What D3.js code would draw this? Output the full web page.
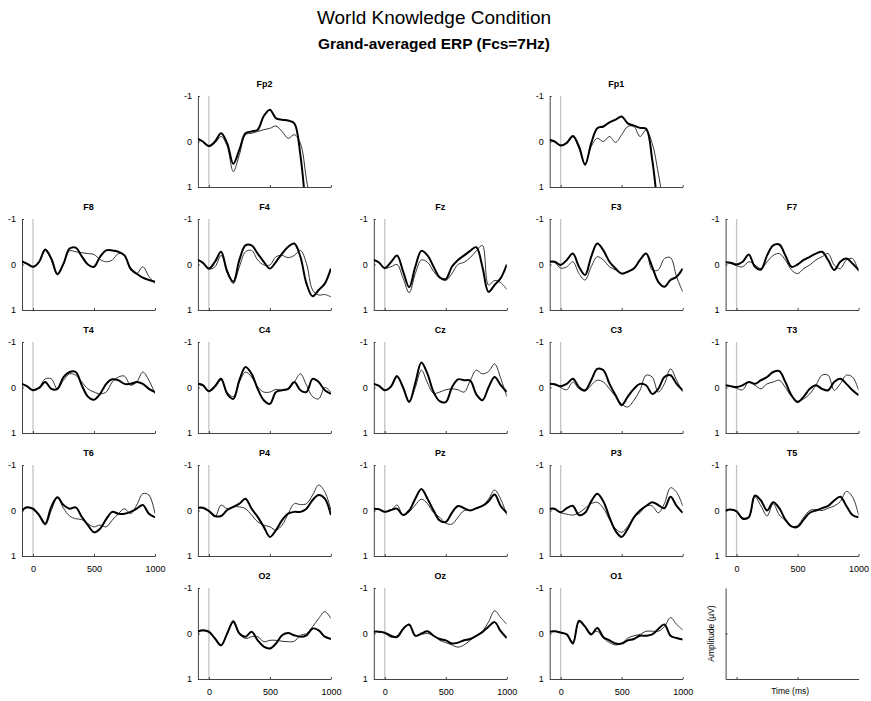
<!DOCTYPE html>
<html>
<head>
<meta charset="utf-8">
<script src="https://cdn.jsdelivr.net/npm/d3@7"></script>
<style>
  body { margin: 0; background: #fff; }
  text { font-family: "Liberation Sans", Arial, sans-serif; }
</style>
</head>
<body>
<div id="chart"></div>
<script>
// time points (ms) shared by every channel
const times = [-90, -50, 0, 50, 100, 150, 200, 250, 300, 350, 400, 450, 500, 550, 600, 650, 700, 750, 800, 850, 900, 950, 1000];
const timeTicks = [0, 500, 1000];
const ampTicks = [-1, 0, 1];

// thick = condition A, thin = condition B (µV, negative up)
const fp2Thick = [-0.06, 0.0, 0.1, 0.0, -0.18, 0.04, 0.49, 0.18, -0.18, -0.22, -0.26, -0.56, -0.7, -0.51, -0.48, -0.46, -0.4, 0.3, 1.7, null, null, null, null];
const fp2Thin = [-0.06, 0.0, 0.11, 0.03, -0.11, 0.1, 0.66, 0.29, -0.15, -0.18, -0.22, -0.26, -0.29, -0.34, -0.22, -0.07, -0.15, 0.04, 0.84, 1.6, null, null, null];
const fp1Thick = [-0.04, 0.0, 0.09, 0.03, -0.12, 0.11, 0.51, 0.04, -0.29, -0.33, -0.42, -0.48, -0.55, -0.4, -0.35, -0.3, -0.28, 0.4, 1.6, null, null, null, null];
const fp1Thin = [-0.04, 0.0, 0.08, 0.03, -0.1, 0.15, 0.49, 0.11, -0.07, 0.0, -0.11, 0.02, -0.15, -0.33, -0.33, -0.11, -0.25, 0.04, 0.7, 1.5, null, null, null];

const f8Thick = [-0.07, -0.02, 0.05, -0.06, -0.33, -0.13, 0.21, -0.02, -0.35, -0.37, -0.18, 0.0, 0.05, -0.17, -0.31, -0.31, -0.28, -0.2, 0.09, 0.2, 0.29, 0.34, 0.38];
const f8Thin = [-0.07, -0.02, 0.05, -0.05, -0.3, -0.1, 0.23, 0.0, -0.3, -0.28, -0.26, -0.24, -0.22, -0.11, -0.06, -0.1, -0.24, -0.2, 0.12, 0.2, 0.05, 0.26, 0.42];
const f4Thick = [-0.1, -0.04, 0.09, -0.06, -0.28, 0.16, 0.38, -0.1, -0.42, -0.42, -0.24, -0.06, 0.09, -0.06, -0.24, -0.39, -0.46, -0.17, 0.42, 0.7, 0.56, 0.42, 0.09];
const f4Thin = [-0.1, -0.05, 0.1, 0.05, -0.2, 0.12, 0.42, 0.05, -0.28, -0.31, -0.1, 0.01, 0.01, -0.17, -0.2, -0.15, -0.2, -0.31, -0.02, 0.56, 0.67, 0.66, 0.71];
const fzThick = [-0.1, -0.05, 0.08, -0.05, -0.2, 0.15, 0.5, 0.05, -0.3, -0.2, 0.05, 0.28, 0.32, 0.05, -0.1, -0.2, -0.3, -0.38, 0.05, 0.6, 0.45, 0.3, 0.0];
const fzThin = [-0.1, -0.05, 0.08, 0.05, 0.0, 0.3, 0.62, 0.2, -0.1, -0.05, 0.15, 0.3, 0.35, 0.2, 0.0, -0.05, -0.15, -0.3, -0.42, 0.45, 0.35, 0.4, 0.55];
const f3Thick = [-0.06, -0.06, 0.01, -0.1, -0.24, 0.05, 0.23, -0.17, -0.46, -0.31, -0.06, 0.09, 0.2, 0.16, 0.09, -0.1, -0.24, 0.05, 0.38, 0.49, 0.34, 0.27, 0.09];
const f3Thin = [-0.06, -0.05, 0.08, 0.05, -0.06, 0.2, 0.34, 0.05, -0.17, -0.1, 0.05, 0.12, 0.2, 0.15, 0.09, -0.1, -0.24, 0.12, 0.12, -0.13, -0.15, 0.27, 0.6];
const f7Thick = [-0.05, -0.04, 0.0, -0.06, -0.22, 0.05, 0.11, -0.2, -0.42, -0.44, -0.2, 0.05, 0.0, -0.1, -0.17, -0.24, -0.28, -0.1, 0.12, -0.06, -0.13, -0.02, 0.12];
const f7Thin = [-0.05, -0.03, 0.03, 0.05, -0.06, 0.01, 0.09, -0.06, -0.2, -0.24, -0.1, 0.12, 0.2, 0.09, 0.01, -0.1, -0.17, -0.24, 0.01, 0.09, -0.1, -0.13, 0.16];

const t4Thick = [-0.08, -0.03, 0.06, 0.01, -0.12, 0.03, 0.03, -0.23, -0.34, -0.34, -0.05, 0.2, 0.27, 0.14, -0.08, -0.18, -0.16, -0.08, -0.08, -0.12, -0.08, 0.03, 0.1];
const t4Thin = [-0.08, -0.03, 0.05, 0.0, -0.19, -0.19, 0.03, -0.16, -0.3, -0.27, -0.12, 0.03, 0.1, 0.14, 0.1, -0.12, -0.23, -0.25, -0.05, -0.12, -0.34, -0.16, 0.14];
const c4Thick = [-0.08, -0.05, 0.08, -0.03, -0.19, 0.14, 0.25, -0.16, -0.45, -0.3, 0.03, 0.28, 0.36, 0.1, 0.06, 0.03, -0.12, 0.06, 0.1, -0.19, -0.12, 0.06, 0.14];
const c4Thin = [-0.08, -0.04, 0.08, 0.0, -0.16, 0.1, 0.2, -0.12, -0.34, -0.23, -0.01, 0.1, 0.1, 0.04, 0.06, 0.03, -0.12, -0.3, -0.05, 0.2, 0.25, 0.0, 0.1];
const czThick = [-0.08, -0.04, 0.06, -0.02, -0.25, 0.0, 0.32, -0.1, -0.55, -0.3, 0.1, 0.3, 0.32, 0.0, -0.18, -0.16, -0.15, 0.15, 0.28, 0.0, -0.23, -0.05, 0.1];
const czThin = [-0.08, -0.04, 0.06, 0.0, -0.22, 0.0, 0.3, 0.0, -0.38, -0.1, 0.13, 0.1, 0.05, 0.03, 0.05, 0.1, -0.15, -0.38, -0.3, -0.35, -0.52, -0.2, 0.2];
const c3Thick = [-0.08, -0.07, -0.03, -0.08, -0.19, -0.01, 0.06, -0.16, -0.41, -0.38, -0.08, 0.17, 0.39, 0.2, 0.03, -0.08, -0.05, 0.14, 0.03, -0.23, -0.27, -0.08, 0.06];
const c3Thin = [-0.08, -0.06, 0.0, 0.05, -0.12, 0.03, 0.08, -0.05, -0.16, -0.12, 0.03, 0.2, 0.36, 0.43, 0.28, 0.06, -0.27, -0.23, 0.1, -0.08, -0.41, -0.16, 0.1];
const t3Thick = [-0.05, -0.03, -0.01, -0.05, -0.12, -0.08, -0.16, -0.23, -0.34, -0.36, -0.12, 0.17, 0.32, 0.2, 0.03, -0.05, 0.03, 0.06, -0.12, -0.19, -0.08, 0.06, 0.17];
const t3Thin = [-0.05, -0.03, 0.02, 0.05, -0.12, -0.05, 0.03, -0.08, -0.12, -0.16, 0.0, 0.2, 0.3, 0.25, 0.14, -0.05, -0.27, -0.27, 0.06, -0.08, -0.27, -0.23, 0.06];

const t6Thick = [0.0, -0.07, -0.04, 0.1, 0.29, -0.08, -0.29, -0.12, -0.04, -0.07, 0.14, 0.32, 0.48, 0.4, 0.19, 0.03, 0.07, 0.07, 0.03, -0.04, -0.12, 0.07, 0.15];
const t6Thin = [0.0, -0.06, -0.02, 0.12, 0.32, 0.0, -0.28, -0.05, 0.12, 0.18, 0.2, 0.29, 0.36, 0.32, 0.36, 0.21, 0.07, -0.04, 0.07, -0.12, -0.37, -0.34, 0.07];
const p4Thick = [-0.06, -0.06, 0.01, 0.12, 0.12, -0.01, -0.08, -0.15, -0.26, -0.04, 0.14, 0.36, 0.58, 0.43, 0.21, 0.07, 0.03, 0.03, -0.04, -0.23, -0.34, -0.26, 0.1];
const p4Thin = [-0.06, -0.05, 0.02, 0.14, -0.12, -0.04, -0.08, -0.08, -0.04, 0.1, 0.25, 0.32, 0.36, 0.43, 0.32, 0.07, -0.15, -0.13, -0.15, -0.34, -0.56, -0.41, -0.01];
const pzThick = [-0.04, -0.03, 0.03, -0.01, -0.04, 0.1, 0.0, -0.26, -0.47, -0.26, 0.0, 0.22, 0.25, 0.05, -0.1, -0.05, 0.0, -0.05, -0.1, -0.2, -0.35, -0.1, 0.05];
const pzThin = [-0.04, -0.03, 0.03, 0.0, -0.12, 0.1, 0.03, -0.12, -0.25, -0.15, 0.05, 0.15, 0.28, 0.3, 0.15, 0.0, 0.0, -0.05, -0.1, -0.25, -0.45, -0.25, 0.1];
const p3Thick = [-0.04, -0.04, 0.04, -0.05, -0.1, 0.1, 0.05, -0.2, -0.37, -0.2, 0.15, 0.45, 0.58, 0.4, 0.15, 0.0, -0.1, -0.18, -0.12, -0.05, -0.3, -0.1, 0.05];
const p3Thin = [-0.04, -0.03, 0.05, 0.08, 0.1, 0.05, -0.05, -0.15, -0.18, -0.05, 0.2, 0.4, 0.48, 0.35, 0.15, 0.05, -0.1, -0.1, 0.05, -0.15, -0.5, -0.4, -0.1];
const t5Thick = [0.0, -0.02, 0.02, 0.18, 0.15, -0.33, -0.22, 0.0, -0.18, -0.05, 0.2, 0.35, 0.36, 0.2, 0.05, 0.0, -0.05, -0.1, -0.22, -0.3, -0.1, 0.1, 0.15];
const t5Thin = [0.0, -0.02, 0.02, 0.16, 0.14, -0.3, -0.1, 0.12, -0.15, 0.1, 0.22, 0.35, 0.33, 0.15, 0.0, -0.02, 0.0, -0.05, -0.1, -0.2, -0.42, -0.3, 0.1];

const o2Thick = [-0.04, -0.07, -0.04, 0.11, 0.26, 0.0, -0.26, 0.0, 0.07, -0.04, 0.15, 0.29, 0.33, 0.22, 0.04, -0.01, 0.04, 0.07, 0.04, -0.11, -0.07, 0.07, 0.12];
const o2Thin = [-0.04, -0.06, -0.02, 0.1, 0.25, 0.0, -0.29, 0.0, 0.11, 0.07, 0.07, 0.18, 0.15, 0.15, 0.17, 0.18, 0.17, 0.04, 0.0, -0.15, -0.33, -0.48, -0.33];
const ozThick = [-0.04, -0.04, -0.02, 0.05, 0.08, -0.1, -0.2, 0.05, 0.0, -0.05, 0.05, 0.12, 0.15, 0.22, 0.2, 0.15, 0.12, 0.05, -0.03, -0.15, -0.25, -0.05, 0.1];
const ozThin = [-0.04, -0.04, 0.0, 0.08, 0.05, -0.1, -0.18, 0.05, 0.02, 0.0, 0.05, 0.15, 0.2, 0.25, 0.3, 0.25, 0.15, 0.05, -0.05, -0.25, -0.5, -0.35, -0.2];
const o1Thick = [-0.04, -0.05, -0.02, 0.02, 0.22, -0.28, -0.15, 0.02, -0.12, 0.08, 0.15, 0.22, 0.22, 0.15, 0.12, 0.05, 0.05, 0.02, -0.1, -0.2, 0.05, 0.1, 0.13];
const o1Thin = [-0.04, -0.05, -0.02, 0.02, 0.18, -0.25, -0.15, 0.0, -0.05, 0.1, 0.2, 0.25, 0.22, 0.1, 0.05, 0.02, -0.05, -0.05, -0.05, -0.15, -0.35, -0.2, -0.08];

// channel name -> [row, col] on the scalp grid, plus its two series
const panels = [
  { name: 'Fp2', row: 0, col: 1, a: fp2Thick, b: fp2Thin },
  { name: 'Fp1', row: 0, col: 3, a: fp1Thick, b: fp1Thin },
  { name: 'F8', row: 1, col: 0, a: f8Thick, b: f8Thin },
  { name: 'F4', row: 1, col: 1, a: f4Thick, b: f4Thin },
  { name: 'Fz', row: 1, col: 2, a: fzThick, b: fzThin },
  { name: 'F3', row: 1, col: 3, a: f3Thick, b: f3Thin },
  { name: 'F7', row: 1, col: 4, a: f7Thick, b: f7Thin },
  { name: 'T4', row: 2, col: 0, a: t4Thick, b: t4Thin },
  { name: 'C4', row: 2, col: 1, a: c4Thick, b: c4Thin },
  { name: 'Cz', row: 2, col: 2, a: czThick, b: czThin },
  { name: 'C3', row: 2, col: 3, a: c3Thick, b: c3Thin },
  { name: 'T3', row: 2, col: 4, a: t3Thick, b: t3Thin },
  { name: 'T6', row: 3, col: 0, a: t6Thick, b: t6Thin, xlab: true },
  { name: 'P4', row: 3, col: 1, a: p4Thick, b: p4Thin },
  { name: 'Pz', row: 3, col: 2, a: pzThick, b: pzThin },
  { name: 'P3', row: 3, col: 3, a: p3Thick, b: p3Thin },
  { name: 'T5', row: 3, col: 4, a: t5Thick, b: t5Thin, xlab: true },
  { name: 'O2', row: 4, col: 1, a: o2Thick, b: o2Thin, xlab: true },
  { name: 'Oz', row: 4, col: 2, a: ozThick, b: ozThin, xlab: true },
  { name: 'O1', row: 4, col: 3, a: o1Thick, b: o1Thin, xlab: true }
];

const width = 871;
const height = 701;
const pw = 133;
const ph = 91;
const colX = c => 22 + c * 175.9;
const rowY = r => 96 + r * 123;

const svg = d3.select('#chart').append('svg')
  .attr('width', width)
  .attr('height', height);

svg.append('text')
  .attr('x', 434).attr('y', 24)
  .attr('text-anchor', 'middle')
  .style('font-size', '19px')
  .text('World Knowledge Condition');

svg.append('text')
  .attr('x', 434).attr('y', 49)
  .attr('text-anchor', 'middle')
  .attr('textLength', 232)
  .attr('lengthAdjust', 'spacingAndGlyphs')
  .style('font-size', '14px')
  .style('font-weight', 'bold')
  .text('Grand-averaged ERP (Fcs=7Hz)');

// plain hyphen minus like the original, not d3's unicode minus
const plain = d => String(d);

function styleAxis(g) {
  g.select('.domain').attr('stroke', '#444');
  g.selectAll('.tick line').attr('stroke', '#444');
  g.selectAll('.tick text').attr('fill', '#000').style('font-size', '9px');
}

panels.forEach((p, i) => {
  const left = colX(p.col);
  const top = rowY(p.row);

  const x = d3.scaleLinear().domain([-90, 1000]).range([left, left + pw]);
  const y = d3.scaleLinear().domain([-1, 1]).range([top, top + ph]);

  const g = svg.append('g');

  g.append('clipPath').attr('id', 'clip' + i)
    .append('rect')
    .attr('x', left).attr('y', top)
    .attr('width', pw).attr('height', ph);

  // stimulus onset
  g.append('line')
    .attr('x1', x(0)).attr('x2', x(0))
    .attr('y1', top).attr('y2', top + ph)
    .attr('stroke', '#c4c4c4')
    .attr('stroke-width', 1.3);

  g.append('g')
    .attr('transform', `translate(0,${top + ph})`)
    .call(d3.axisBottom(x).tickValues(timeTicks)
      .tickSizeInner(-2).tickSizeOuter(0).tickPadding(10)
      .tickFormat(p.xlab ? plain : () => ''))
    .call(styleAxis);

  g.append('g')
    .attr('transform', `translate(${left},0)`)
    .call(d3.axisLeft(y).tickValues(ampTicks)
      .tickSizeInner(-2).tickSizeOuter(0).tickPadding(6)
      .tickFormat(plain))
    .call(styleAxis);

  const line = d3.line()
    .defined(d => d[1] !== null)
    .x(d => x(d[0]))
    .y(d => y(d[1]))
    .curve(d3.curveCatmullRom.alpha(0.5));

  const lines = g.append('g').attr('clip-path', `url(#clip${i})`);

  lines.append('path')
    .attr('d', line(times.map((t, k) => [t, p.b[k]])))
    .attr('fill', 'none')
    .attr('stroke', '#333')
    .attr('stroke-width', 1);

  lines.append('path')
    .attr('d', line(times.map((t, k) => [t, p.a[k]])))
    .attr('fill', 'none')
    .attr('stroke', '#000')
    .attr('stroke-width', 2);

  g.append('text')
    .attr('x', left + pw / 2).attr('y', top - 9)
    .attr('text-anchor', 'middle')
    .style('font-size', '9px')
    .style('font-weight', 'bold')
    .text(p.name);
});

// empty key panel with axis labels
{
  const left = colX(4);
  const top = rowY(4);
  const x = d3.scaleLinear().domain([-90, 1000]).range([left, left + pw]);
  const y = d3.scaleLinear().domain([-1, 1]).range([top, top + ph]);
  const g = svg.append('g');

  g.append('g')
    .attr('transform', `translate(0,${top + ph})`)
    .call(d3.axisBottom(x).tickValues([0, 500])
      .tickSizeInner(-2).tickSizeOuter(0).tickFormat(() => ''))
    .call(styleAxis);

  g.append('g')
    .attr('transform', `translate(${left},0)`)
    .call(d3.axisLeft(y).tickValues([0])
      .tickSizeInner(-2).tickSizeOuter(0).tickFormat(() => ''))
    .call(styleAxis);

  g.append('text')
    .attr('transform', `translate(${left - 12},${top + ph / 2}) rotate(-90)`)
    .attr('text-anchor', 'middle')
    .style('font-size', '8.5px')
    .text('Amplitude (\u00b5V)');

  g.append('text')
    .attr('x', left + pw / 2 - 2).attr('y', top + ph + 15)
    .attr('text-anchor', 'middle')
    .style('font-size', '8.5px')
    .text('Time (ms)');
}
</script>
</body>
</html>
